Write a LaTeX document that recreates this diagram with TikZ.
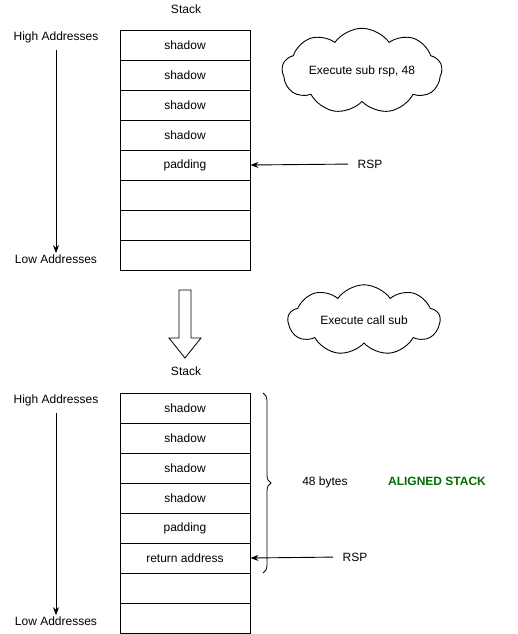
\documentclass[tikz,border=0pt]{standalone}
\usepackage{fontspec}
\setmainfont{Liberation Sans}
\usetikzlibrary{arrows.meta,shapes.symbols,decorations.pathreplacing}
\definecolor{aligngreen}{RGB}{0,110,0}
\begin{document}
\begin{tikzpicture}[x=1pt, y=-1pt, >={Stealth[length=8pt,width=6pt]}, line width=0.9pt,
    font=\fontsize{12}{14}\selectfont]
    \useasboundingbox (0,0) rectangle (518,634);

    % --- ESTILOS ---
    \tikzset{
        cell/.style={draw=black, rectangle, minimum width=130pt, minimum height=30pt, inner sep=0pt},
        wolke/.style={draw=black, cloud, cloud puffs=9, cloud puff arc=110, aspect=2.4,
            minimum width=160pt, minimum height=66pt, inner sep=0pt},
        plain/.style={inner sep=1pt}
    }

    % --- PILA SUPERIOR ---
    \node[plain] (Stack1) at (186, 9) {Stack};
    \node[cell] (a1) at (185, 45)  {shadow};
    \node[cell] (a2) at (185, 75)  {shadow};
    \node[cell] (a3) at (185, 105) {shadow};
    \node[cell] (a4) at (185, 135) {shadow};
    \node[cell] (a5) at (185, 165) {padding};
    \node[cell] (a6) at (185, 195) {};
    \node[cell] (a7) at (185, 225) {};
    \node[cell] (a8) at (185, 255) {};

    % Direcciones
    \node[plain] (High1) at (56, 37)  {High Addresses};
    \node[plain] (Low1)  at (56, 259) {Low Addresses};
    \draw[->, shorten <=6pt] (High1.south) -- (Low1.north);

    % Puntero
    \node[plain] (RSP1) at (370, 164) {RSP};
    \draw[->, shorten <=8pt] (RSP1.west) -- (a5.east);

    % Nube
    \node[wolke] (Cloud1) at (362, 71) {Execute sub rsp, 48};

    % --- FLECHA HUECA ---
    \draw[line width=0.8pt] (179, 290) -- (191, 290) -- (191, 338) -- (201, 338)
        -- (185, 358) -- (169, 338) -- (179, 338) -- cycle;
    \node[wolke, minimum width=152pt] (Cloud2) at (364, 320) {Execute call sub};

    % --- PILA INFERIOR ---
    \node[plain] (Stack2) at (186, 371) {Stack};
    \node[cell] (b1) at (185, 408) {shadow};
    \node[cell] (b2) at (185, 438) {shadow};
    \node[cell] (b3) at (185, 468) {shadow};
    \node[cell] (b4) at (185, 498) {shadow};
    \node[cell] (b5) at (185, 528) {padding};
    \node[cell] (b6) at (185, 558) {return address};
    \node[cell] (b7) at (185, 588) {};
    \node[cell] (b8) at (185, 618) {};

    % Direcciones
    \node[plain] (High2) at (56, 400) {High Addresses};
    \node[plain] (Low2)  at (56, 621) {Low Addresses};
    \draw[->, shorten <=6pt] (High2.south) -- (Low2.north);

    % Puntero
    \node[plain] (RSP2) at (355, 557) {RSP};
    \draw[->, shorten <=8pt] (RSP2.west) -- (b6.east);

    % Llave
    \draw[decorate, decoration={brace, amplitude=8pt}, line width=0.8pt]
        (263, 393) coordinate (br1) -- (263, 573) coordinate (br2);
    \node[plain] (Bytes) at (325, 482) {48 bytes};
    \node[plain, text=aligngreen, font=\fontsize{12}{14}\selectfont\bfseries] (Aligned) at (437, 481) {ALIGNED STACK};

\end{tikzpicture}
\end{document}
